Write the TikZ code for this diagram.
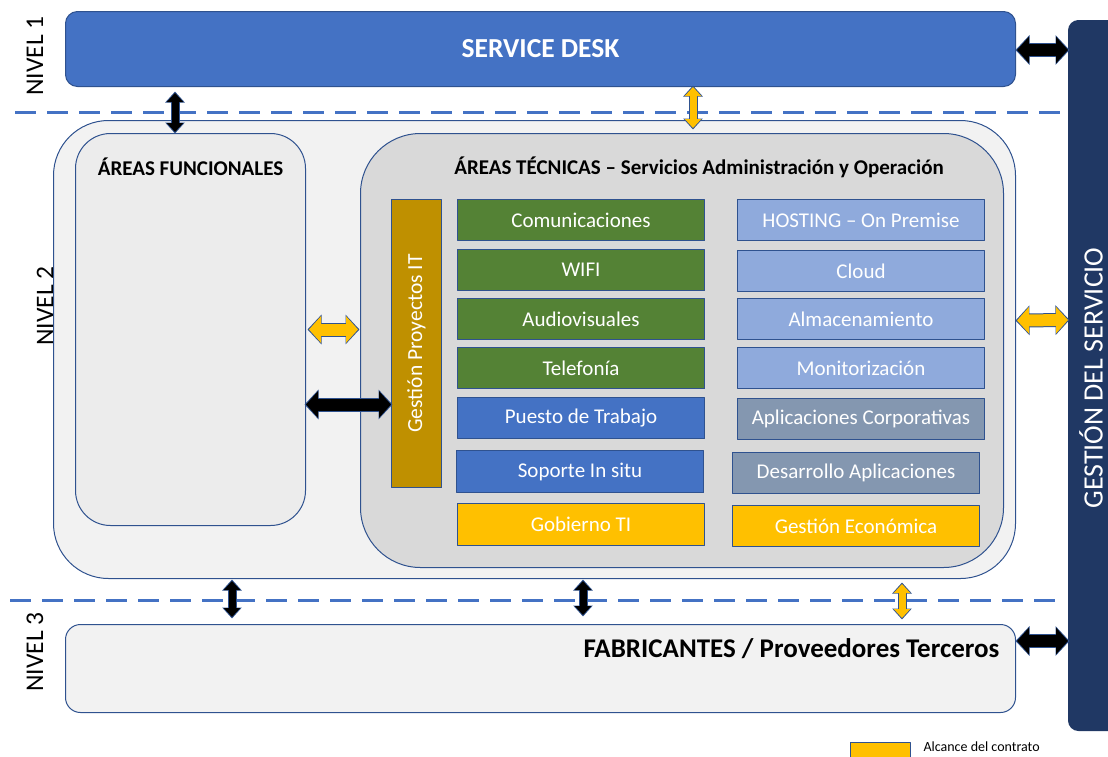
\documentclass[tikz,border=0pt]{standalone}
\usepackage{fontspec}
\setmainfont{Carlito}
\usetikzlibrary{arrows.meta,calc,positioning}
\definecolor{sdblue}{HTML}{4472C4}
\definecolor{edge}{HTML}{2F528F}
\definecolor{navy}{HTML}{203864}
\definecolor{techgreen}{HTML}{548235}
\definecolor{skyblue}{HTML}{8FAADC}
\definecolor{slate}{HTML}{8497B0}
\definecolor{gold}{HTML}{BF9000}
\definecolor{amber}{HTML}{FFC000}
\definecolor{pale}{HTML}{F2F2F2}
\definecolor{midgrey}{HTML}{D9D9D9}
\tikzset{
  box/.style={draw=edge, line width=1pt, anchor=north west, inner sep=0pt},
  svc/.style={box, fill=#1, minimum width=247pt, minimum height=41pt, text=white,
    font=\fontsize{21}{24}\selectfont},
  ttl/.style={font=\bfseries\fontsize{21}{24}\selectfont},
  lvl/.style={rotate=90, font=\fontsize{25.5}{28}\selectfont},
  level/.style={draw=sdblue, line width=3pt, dash pattern=on 21pt off 11pt},
  varr/.style={draw=#1, line width=7pt,
    {Triangle[length=9pt,width=16pt]}-{Triangle[length=9pt,width=16pt]},
    preaction={draw=edge, line width=9pt, shorten <=-1.5pt, shorten >=-1.5pt,
      {Triangle[length=11pt,width=19pt]}-{Triangle[length=11pt,width=19pt]}}},
  harr/.style={draw=#1, line width=12pt,
    {Triangle[length=12pt,width=26pt]}-{Triangle[length=12pt,width=26pt]},
    preaction={draw=edge, line width=14pt, shorten <=-1.5pt, shorten >=-1.5pt,
      {Triangle[length=14pt,width=29pt]}-{Triangle[length=14pt,width=29pt]}}},
}
\begin{document}
\begin{tikzpicture}[x=1pt, y=-1pt, line join=round]
\useasboundingbox (0,0) rectangle (1108,756);
% level separators
\draw[level] (15,112) -- (1065,112);
\draw[level] (10,600) -- (1065,600);
\node[lvl] (l1) at (35,56) {NIVEL 1};
\node[lvl] (l2) at (45,306) {NIVEL 2};
\node[lvl] (l3) at (35,652) {NIVEL 3};

% level 1
\node[box, fill=sdblue, rounded corners=12pt, minimum width=950pt, minimum height=75pt,
  text=white, font=\bfseries\fontsize{27.5}{30}\selectfont] (sd) at (65,11) {SERVICE DESK};

% service management column
\node[box, draw=navy, fill=navy, rounded corners=10pt, minimum width=55pt, minimum height=710pt] (gs) at (1068,20) {};
\node[rotate=90, text=white, font=\fontsize{28}{30}\selectfont] (gst) at (1091,378) {GESTIÓN DEL SERVICIO};

% level 2
\node[box, fill=pale, rounded corners=55pt, minimum width=962pt, minimum height=458pt] (n2) at (53,120) {};
\node[box, fill=pale!95!gray, rounded corners=35pt, minimum width=230pt, minimum height=392pt] (af) at (75,133) {};
\node[ttl] (aft) at ($(af.north)+(0,34)$) {ÁREAS FUNCIONALES};
\node[box, fill=midgrey, rounded corners=60pt, minimum width=643pt, minimum height=434pt] (at) at (360,133) {};
\node[ttl] (att) at ($(at.north)+(17,34)$) {ÁREAS TÉCNICAS – Servicios Administración y Operación};
\node[box, fill=gold, minimum width=50pt, minimum height=288pt] (gp) at (391,199) {};
\node[rotate=90, text=white, font=\fontsize{21.5}{24}\selectfont] (gpt) at (gp.center) {Gestión Proyectos IT};

\foreach \n/\y/\t in {com/199/Comunicaciones, wifi/249/WIFI, av/298/Audiovisuales, tel/347/Telefonía}
  \node[svc=techgreen] (\n) at (457,\y) {\t};
\node[svc=sdblue] (pt) at (457,397) {Puesto de Trabajo};
\node[svc=sdblue, minimum height=42pt] (sis) at (456,450) {Soporte In situ};
\node[svc=amber, minimum height=42pt] (gti) at (457,503) {Gobierno TI};

\foreach \n/\y/\t in {host/199/HOSTING – On Premise, cloud/250/Cloud, alm/298/Almacenamiento, mon/347/Monitorización}
  \node[svc=skyblue] (\n) at (737,\y) {\t};
\node[svc=slate] (apc) at (737,398) {Aplicaciones Corporativas};
\node[svc=slate] (dap) at (732,452) {Desarrollo Aplicaciones};
\node[svc=amber] (gec) at (732,505) {Gestión Económica};

% level 3
\node[box, fill=pale, rounded corners=15pt, minimum width=950pt, minimum height=88pt] (fab) at (65,624) {};
\node[anchor=east, font=\bfseries\fontsize{27}{30}\selectfont] (fabt) at (1003,649) {FABRICANTES / Proveedores Terceros};

% block arrows
\draw[varr=black] ($(sd.south west)+(110,6)$) -- ($(n2.north west)+(122,12)$);
\draw[varr=amber] ($(sd.south west)+(628,0)$) -- ($(n2.north west)+(640,8)$);
\draw[harr=black] ($(sd.north east)+(1,39)$) -- ($(gs.north west)+(0,30)$);
\draw[harr=amber] ($(af.east)+(3,0)$) -- ($(at.west)+(-2,-21)$);
\draw[harr=black] ($(af.east)+(0,75)$) -- ($(gp.west)+(0,61)$);
\draw[harr=amber] ($(n2.east)+(1,-29)$) -- ($(gs.north west)+(0,300)$);
\draw[varr=black] ($(n2.south west)+(179,2)$) -- ($(fab.north west)+(167,-7)$);
\draw[varr=black] ($(n2.south west)+(530,2)$) -- ($(fab.north west)+(518,-9)$);
\draw[varr=amber] ($(at.south west)+(542,16)$) -- ($(fab.north west)+(837,-6)$);
\draw[harr=black] ($(fab.north east)+(1,17)$) -- ($(gs.north west)+(0,621)$);

% legend
\node[box, fill=amber, minimum width=60pt, minimum height=20pt] (leg) at (850,742) {};
\node[anchor=west, font=\fontsize{14}{16}\selectfont] (legt) at (920,747) {Alcance del contrato};
\end{tikzpicture}
\end{document}
